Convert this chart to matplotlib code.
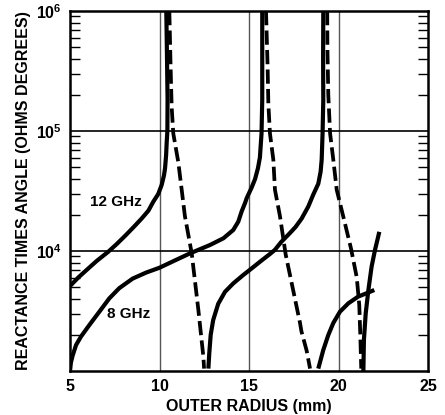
import matplotlib
matplotlib.use("Agg")
import matplotlib.pyplot as plt
from matplotlib.ticker import LogLocator, NullFormatter, FixedLocator

plt.rcParams['font.family'] = ['Liberation Sans', 'DejaVu Sans']
plt.rcParams['font.weight'] = 'bold'
plt.rcParams['mathtext.fontset'] = 'custom'
plt.rcParams['mathtext.rm'] = 'Liberation Sans:bold'
plt.rcParams['mathtext.bf'] = 'Liberation Sans:bold'

# ---- data (outer radius mm, reactance x angle in ohm-degrees) ----
# 12 GHz, solid (positive) branches
g12_a_x = [5.0, 5.47, 5.84, 6.49, 7.14, 7.61, 8.07, 8.54, 9.0, 9.38, 9.65, 9.93, 10.12, 10.25, 10.31, 10.37, 10.40, 10.44, 10.45, 10.42, 10.38]
g12_a_y = [5105, 6026, 6761, 8260, 9863, 11430, 13340, 15740, 18620, 21680, 25700, 29850, 35480, 42660, 48980, 63100, 79430, 100000, 181970, 398100, 1000000]
g12_b_x = [12.73, 12.78, 12.86, 13.0, 13.28, 13.66, 14.12, 14.68, 15.15, 15.61, 16.17, 16.45, 16.8, 17.29, 17.6, 17.94, 18.31, 18.59, 18.87, 19.0, 19.06, 19.11, 19.15, 19.14, 19.15]
g12_b_y = [1047, 1400, 2000, 2661, 3631, 4571, 5370, 6310, 7161, 8128, 9441, 10230, 11890, 14130, 15850, 18620, 23440, 29510, 36310, 45710, 57540, 95500, 181970, 398100, 1000000]
g12_c_x = [21.39, 21.42, 21.52, 21.67, 21.85, 22.04, 22.17, 22.28]
g12_c_y = [1000, 1820, 3020, 4732, 7413, 10230, 12300, 14450]
# 12 GHz, dashed (negative) branches
g12_d1_x = [10.55, 10.62, 10.68, 10.77, 11.05, 11.24, 11.42, 11.8, 12.17, 12.45, 12.49]
g12_d1_y = [1000000, 343600, 158500, 95500, 54950, 32360, 19500, 9550, 3236, 1318, 1047]
g12_d2_x = [19.37, 19.38, 19.43, 19.53, 19.71, 19.9, 20.36, 20.7, 21.02, 21.16, 21.22, 21.27]
g12_d2_y = [1000000, 501200, 199500, 95500, 57540, 32360, 16980, 10470, 6026, 3548, 1950, 1047]
# 8 GHz, solid (positive) branches
g8_a_x = [5.0, 5.05, 5.15, 5.34, 5.61, 6.08, 6.64, 7.2, 7.75, 8.5, 9.25, 9.99, 10.7, 11.7, 12.82, 13.57, 14.12, 14.4, 14.59, 14.78, 14.87, 15.15, 15.34, 15.5, 15.61, 15.7, 15.74, 15.74]
g8_a_y = [1000, 1175, 1349, 1648, 1932, 2415, 3119, 4036, 4898, 5888, 6607, 7244, 8128, 9550, 11220, 12760, 14960, 17540, 21380, 25120, 27540, 33880, 39810, 48980, 60260, 95500, 181970, 1000000]
g8_b_x = [18.87, 19.15, 19.43, 19.71, 20.08, 20.55, 21.1, 21.57, 22.0]
g8_b_y = [1047, 1496, 1995, 2512, 3119, 3664, 4169, 4446, 4732]
# 8 GHz, dashed (negative) branch
g8_d_x = [15.95, 16.04, 16.08, 16.17, 16.36, 16.45, 16.73, 17.05, 17.57, 17.85, 17.93, 18.22, 18.41]
g8_d_y = [1000000, 343600, 169800, 95500, 57540, 32360, 19500, 9333, 3981, 2512, 2138, 1479, 1047]

x_ticks = [5, 10, 15, 20, 25]
y_ticks = [1e4, 1e5, 1e6]
y_tick_labels = [r'$\mathbf{10^{4}}$', r'$\mathbf{10^{5}}$', r'$\mathbf{10^{6}}$']

fig = plt.figure(figsize=(4.45, 4.15), dpi=100)
ax = fig.add_axes([70/445, 1-371/415, 358/445, 360/415])
ax.set_yscale('log')
ax.set_xlim(5, 25)
ax.set_ylim(1e3, 1e6)

# grid
for xv in [10, 15, 20]:
    ax.axvline(xv, color='#555555', lw=1.0, zorder=1)
for yv in [1e4, 1e5]:
    ax.axhline(yv, color='black', lw=1.2, zorder=1)

lw = 3.0
solid = dict(color='black', lw=lw, solid_capstyle='butt', solid_joinstyle='round', zorder=3)
dashed = dict(color='black', lw=lw*0.9, dashes=(3.8, 1.4), dash_capstyle='butt', zorder=3)
ax.plot(g12_a_x, g12_a_y, **solid)
ax.plot(g12_b_x, g12_b_y, **solid)
ax.plot(g12_c_x, g12_c_y, **solid)
ax.plot(g8_a_x, g8_a_y, **solid)
ax.plot(g8_b_x, g8_b_y, **solid)
ax.plot(g12_d1_x, g12_d1_y, **dashed)
ax.plot(g12_d2_x, g12_d2_y, **dashed)
ax.plot(g8_d_x, g8_d_y, **dashed)

ax.text(6.12, 2.57e4, '12 GHz', fontsize=11, fontweight='bold', va='center', ha='left')
ax.text(7.07, 2.99e3, '8 GHz', fontsize=11, fontweight='bold', va='center', ha='left')

ax.set_xticks(x_ticks)
ax.set_xticklabels([str(v) for v in x_ticks], fontsize=11.5, fontweight='bold')
ax.tick_params(axis='x', length=0, pad=6)
ax.yaxis.set_major_locator(FixedLocator(y_ticks))
ax.set_yticklabels(y_tick_labels, fontsize=11.5)
ax.yaxis.set_minor_locator(LogLocator(base=10, subs=range(2, 10)))
ax.yaxis.set_minor_formatter(NullFormatter())
ax.tick_params(axis='y', which='major', length=0, pad=6)
ax.tick_params(axis='y', which='minor', direction='in', length=7, width=1.0, left=True, right=True)
for s in ax.spines.values():
    s.set_linewidth(1.8)

ax.set_xlabel('OUTER RADIUS (mm)', fontsize=11.5, fontweight='bold', labelpad=3)
ax.set_ylabel('REACTANCE TIMES ANGLE (OHMS DEGREES)', fontsize=11.5, fontweight='bold', labelpad=3)

fig.savefig('out.png', dpi=100)
